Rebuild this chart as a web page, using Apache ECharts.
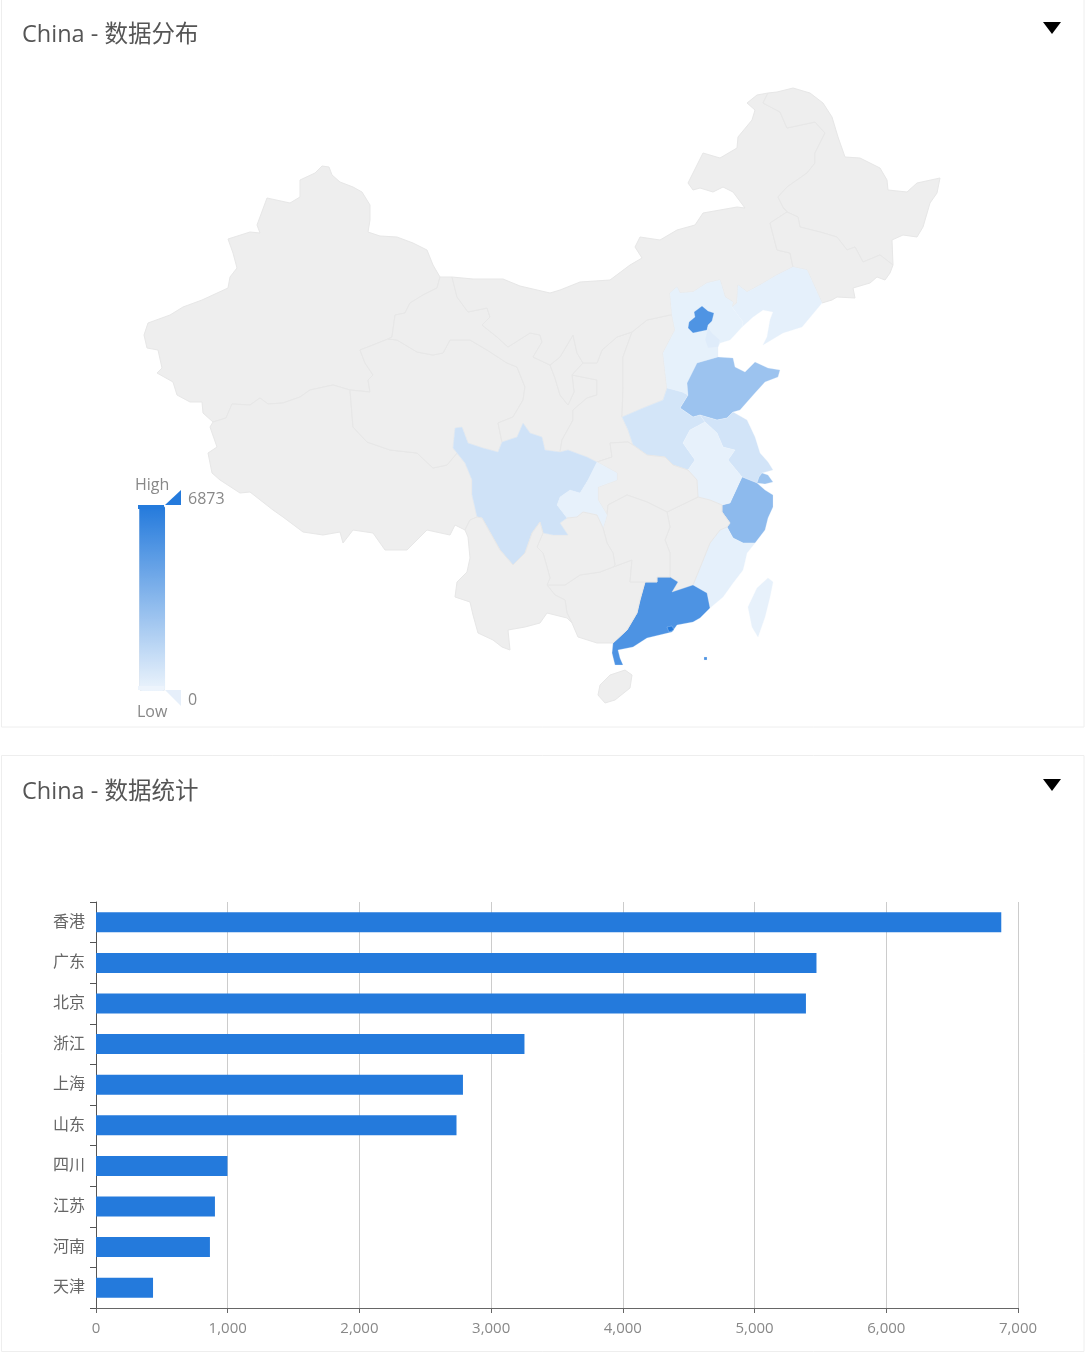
<!DOCTYPE html>
<html><head><meta charset="utf-8">
<style>html,body{margin:0;padding:0;background:#fff}#c{width:1088px;height:1356px}</style>
<script src="https://cdn.jsdelivr.net/npm/echarts@6/dist/echarts.min.js"></script>
</head><body><div id="c"></div>
<script>
// ---------- data ----------
const barCategories = ['香港','广东','北京','浙江','上海','山东','四川','江苏','河南','天津'];
const barValues = [6873,5470,5390,3253,2786,2737,998,903,865,433];
const extraRegions = ['辽宁','河北','安徽','福建','重庆','台湾'];
const extraValues = [240,190,180,230,170,160];
const xTicks = {min:0,max:7000,interval:1000};
const legendRange = [0,6873];

// ---------- map outline data (shared province borders) ----------
const A = {
xjN:[[440,277],[433,265],[427,250],[413,243],[397,237],[380,236],[368,232],[370,220],[370,205],[362,192],[353,187],[340,182],[332,175],[329,167],[322,166],[315,173],[300,180],[300,197],[290,203],[267,198],[257,225],[260,233],[250,232],[228,239],[233,253],[237,268],[230,277],[228,288],[202,300],[183,307],[170,315],[148,323],[144,335],[147,348],[158,350],[162,368],[157,373],[173,382],[177,395],[190,402],[202,402],[203,413],[213,422]],
xjGs:[[440,277],[437,288],[423,295],[410,303],[405,313],[395,315],[392,337],[388,339]],
xjQh:[[388,339],[373,345],[360,350],[365,363],[373,375],[368,380],[370,392],[350,390]],
xjXz:[[350,390],[333,385],[310,390],[300,397],[283,403],[268,404],[260,398],[250,405],[232,404],[226,418],[213,422]],
xzS:[[213,422],[210,427],[217,447],[208,453],[212,473],[220,480],[240,493],[250,492],[273,510],[283,517],[303,532],[323,535],[340,532],[343,543],[353,530],[373,533],[385,550],[407,550],[427,530],[450,535],[455,525],[465,530]],
xzYn:[[465,530],[470,520],[477,517]],
xzSc:[[477,517],[472,495],[472,480],[465,463],[457,453]],
xzQh:[[457,453],[447,465],[433,468],[417,453],[390,450],[367,442],[353,427],[350,390]],
qhSc:[[457,453],[453,448],[455,428],[462,427],[468,443],[483,448],[498,452],[502,442]],
qhGs:[[502,442],[498,423],[513,417],[523,400],[525,387],[517,367],[507,363],[487,350],[470,340],[450,340],[443,353],[433,355],[417,352],[397,340],[388,339]],
gsN:[[440,277],[452,277]],
gsIm:[[452,277],[457,297],[468,312],[487,308],[490,317],[482,325],[497,337],[508,347],[530,333],[540,335],[542,342],[533,357],[550,365]],
gsNx:[[550,365],[555,378],[560,395],[568,405],[574,392],[572,375]],
gsSx:[[572,375],[597,380],[597,395],[587,398],[573,410],[573,420],[562,440],[560,452]],
gsSc:[[560,452],[545,450],[542,437],[530,433],[523,423],[517,437],[502,442]],
nxIm:[[550,365],[560,357],[573,335],[577,353],[583,363]],
nxSx:[[583,363],[572,375]],
sxIm:[[583,363],[597,363],[602,350],[617,337],[632,332]],
sxShx:[[632,332],[623,357],[623,387],[622,417]],
sxHn:[[622,417],[628,430],[633,445]],
sxHb:[[633,445],[628,442],[610,443],[612,457],[597,462]],
sxSc:[[597,462],[587,457],[568,450],[560,452]],
shxIm:[[632,332],[647,320],[670,315],[672,315]],
shxHe:[[672,315],[675,330],[663,353],[667,388]],
shxHn:[[667,388],[663,400],[643,408],[622,417]],
imN:[[452,277],[473,279],[503,279],[520,286],[550,293],[560,290],[580,282],[610,280],[630,265],[642,258],[635,247],[640,237],[660,240],[677,230],[695,225],[703,213],[737,207],[745,208],[733,192],[723,187],[713,192],[700,188],[693,190],[688,183],[703,153],[720,158],[737,148],[738,137],[752,120],[755,110],[747,103],[757,95],[768,93]],
imHl:[[768,93],[763,103],[780,112],[787,128],[815,122],[825,133],[815,153],[815,163],[807,173],[787,187],[778,197],[783,207]],
imJl:[[783,207],[787,212],[770,223],[777,250],[790,253],[793,267]],
imLn:[[793,267],[777,275],[760,285],[747,292],[738,285],[737,303],[732,307]],
imHe:[[732,307],[733,302],[725,297],[720,280],[707,283],[693,292],[680,293],[677,287],[670,293],[672,315]],
hlN:[[768,93],[777,92],[793,88],[810,93],[823,103],[832,117],[838,137],[845,157],[860,158],[880,168],[887,180],[888,190],[907,192],[917,183],[940,178],[937,193],[930,203],[923,227],[917,237],[903,235],[892,240],[893,265]],
hlJl:[[783,207],[787,212],[798,217],[800,227],[820,232],[837,237],[847,250],[855,247],[863,262],[880,255],[893,265]],
jlE:[[893,265],[890,273],[885,280],[877,277],[870,283],[853,288],[855,298],[837,297],[832,300],[822,303]],
jlLn:[[793,267],[807,270],[822,303]],
lnC:[[822,303],[802,327],[783,333],[763,345],[767,337],[770,320],[773,312],[763,310],[753,317],[742,327]],
lnHe:[[732,307],[743,322],[742,327]],
heC:[[742,327],[730,340],[720,343],[718,347],[718,357]],
heSd:[[718,357],[697,363],[687,383],[688,395]],
heHn:[[667,388],[682,392],[688,395]],
sdC:[[718,357],[733,358],[735,367],[745,372],[755,362],[768,368],[780,370],[778,377],[765,382],[755,393],[740,410],[733,412]],
sdJs:[[733,412],[727,418],[717,420],[700,415]],
sdHn:[[688,395],[680,408],[693,417],[700,415]],
hnJs:[[700,415],[705,422]],
hnAh:[[705,422],[690,430],[683,443],[695,460],[688,470]],
hnHb:[[633,445],[647,455],[665,457],[673,465],[688,470]],
jsC:[[733,412],[747,420],[755,437],[760,453],[768,462],[773,470],[762,473]],
jsSh:[[762,473],[759,477],[757,483]],
jsZj:[[757,483],[742,477]],
jsAh:[[705,422],[717,433],[723,447],[735,450],[728,460],[742,477]],
shC:[[762,473],[768,475],[773,482],[765,484],[757,483]],
zjC:[[757,483],[765,490],[773,495],[773,507],[768,518],[765,530],[755,543]],
zjAh:[[742,477],[730,503],[722,505]],
zjJx:[[722,505],[722,512],[730,523],[727,527]],
zjFj:[[727,527],[733,538],[743,543],[755,543]],
ahJx:[[722,505],[710,500],[698,497]],
ahHb:[[698,497],[697,480],[688,470]],
fjC:[[755,543],[747,553],[743,570],[733,583],[723,597],[710,608]],
fjGd:[[710,608],[707,593],[693,585]],
fjJx:[[693,585],[702,563],[710,543],[720,530],[727,527]],
gdC:[[710,608],[700,618],[693,622],[677,625],[672,632],[647,638],[633,647],[618,650],[620,658],[623,665],[615,665],[612,653],[613,643]],
gdGx:[[613,643],[627,630],[637,613],[640,600],[645,582]],
gdHn:[[645,582],[657,582],[657,577],[670,577]],
gdJx:[[670,577],[678,582],[672,592],[693,585]],
hbJx:[[698,497],[667,512]],
hbHn:[[667,512],[647,502],[627,495],[608,505],[607,515]],
hbCq:[[607,515],[598,500],[598,487],[617,480],[617,473],[597,462]],
hnJx:[[667,512],[670,527],[665,540],[670,553],[670,577]],
hnGx:[[645,582],[630,582],[632,560],[613,567]],
hnGz:[[613,567],[615,565],[613,553],[607,543],[603,528]],
hnCq:[[603,528],[607,515]],
cqGz:[[603,528],[597,515],[583,512],[577,517],[567,518]],
cqSc:[[567,518],[557,505],[560,497],[570,490],[580,493],[588,480],[597,462]],
gzSc:[[567,518],[560,523],[568,535],[553,535],[543,533]],
ynSc:[[543,533],[540,522],[532,533],[525,553],[513,565],[500,550],[482,518],[477,517]],
ynW:[[465,530],[468,537],[470,558],[467,572],[457,582],[455,597],[470,602],[473,615],[478,633],[493,640],[502,647],[510,650],[508,630],[525,627],[540,623],[547,613],[567,618],[572,623]],
ynGx:[[572,623],[567,613],[565,600],[555,595],[547,585]],
ynGz:[[547,585],[550,578],[547,567],[543,553],[537,547],[543,533]],
gxGz:[[547,585],[565,585],[580,575],[600,572],[613,567]],
gxS:[[572,623],[578,637],[597,643],[613,643]]
};
// province = ordered list of border arcs ('-' = walk the arc backwards)
const P = {
'新疆':['xjGs','xjQh','xjXz','-xjN'],
'西藏':['xjXz','xzS','xzYn','xzSc','xzQh'],
'青海':['xjQh','-xzQh','qhSc','qhGs'],
'甘肃':['gsN','gsIm','gsNx','gsSx','gsSc','qhGs','-xjGs'],
'宁夏':['nxIm','nxSx','-gsNx'],
'陕西':['sxIm','sxShx','sxHn','sxHb','sxSc','-gsSx','-nxSx'],
'山西':['shxIm','shxHe','shxHn','-sxShx'],
'内蒙古':['imN','imHl','imJl','imLn','imHe','-shxIm','-sxIm','-nxIm','-gsIm'],
'黑龙江':['hlN','-hlJl','-imHl'],
'吉林':['hlJl','jlE','-jlLn','-imJl'],
'辽宁':['jlLn','lnC','-lnHe','-imLn'],
'河北':['imHe','shxHe','heHn','-heSd','-heC','-lnHe'],
'山东':['sdC','sdJs','-sdHn','-heSd'],
'河南':['heHn','sdHn','hnJs','hnAh','-hnHb','-sxHn','-shxHn'],
'江苏':['-sdJs','jsC','jsSh','jsZj','-jsAh','-hnJs'],
'上海':['shC','-jsSh'],
'浙江':['zjC','-zjFj','-zjJx','-zjAh','-jsZj'],
'安徽':['jsAh','zjAh','ahJx','ahHb','-hnAh'],
'福建':['zjFj','fjC','fjGd','fjJx'],
'江西':['hbJx','hnJx','gdJx','fjJx','-zjJx','ahJx'],
'广东':['gdC','gdGx','gdHn','gdJx','-fjGd'],
'广西':['gdGx','hnGx','-gxGz','-ynGx','gxS'],
'湖北':['hnHb','-ahHb','hbJx','hbHn','hbCq','-sxHb'],
'湖南':['-hbHn','hnJx','-gdHn','hnGx','hnGz','hnCq'],
'重庆':['-hbCq','-hnCq','cqGz','cqSc'],
'贵州':['-cqGz','-hnGz','-gxGz','ynGz','-gzSc'],
'四川':['-cqSc','gzSc','ynSc','xzSc','qhSc','-gsSc','-sxSc'],
'云南':['-xzYn','ynW','ynGx','ynGz','ynSc']
};
// areas that are not built from shared borders
const islands = {
'北京':[[[702,306],[708,311],[714,313],[712,321],[708,325],[707,330],[693,333],[688,328],[689,322],[695,317],[694,312]]],
'天津':[[[708,327],[712,333],[720,340],[718,347],[708,348],[705,340]]],
'海南':[[[600,685],[610,675],[625,670],[632,675],[630,688],[615,700],[605,703],[598,695]]],
'台湾':[[[748,607],[757,588],[768,578],[773,582],[770,597],[765,617],[758,637],[752,627]]],
'香港':[[[667,627],[672,626],[674,630],[669,632]]]
};
const guangdongIsland = [[704,657],[707,657],[707,660],[704,660]];

function ring(list){
  let r=[];
  list.forEach(k=>{
    const rev=k[0]==='-', a=A[rev?k.slice(1):k];
    r=r.concat(rev?a.slice().reverse():a);
  });
  r.push(r[0]);
  return r.map(p=>[p[0],-p[1]]);
}
function closed(pts){return pts.concat([pts[0]]).map(p=>[p[0],-p[1]]);}
const features=[];
Object.keys(P).forEach(n=>{
  let coords=[[ring(P[n])]];
  if(n==='广东')coords.push([closed(guangdongIsland)]);
  features.push({type:'Feature',properties:{name:n},geometry:{type:'MultiPolygon',coordinates:coords}});
});
Object.keys(islands).forEach(n=>{
  features.push({type:'Feature',properties:{name:n},geometry:{type:'MultiPolygon',coordinates:islands[n].map(x=>[closed(x)])}});
});
echarts.registerMap('china',{type:'FeatureCollection',features});

const colouredEdge={borderColor:'rgba(236,244,252,0.5)',borderWidth:0.5};
const mapData = barCategories.map((n,i)=>({name:n,value:barValues[i],itemStyle:colouredEdge}))
  .concat(extraRegions.map((n,i)=>({name:n,value:extraValues[i],itemStyle:colouredEdge})));

const FONT='"Open Sans","Noto Sans CJK SC",sans-serif';
const chart=echarts.init(document.getElementById('c'),null,{renderer:'canvas'});
chart.setOption({
  animation:false,
  textStyle:{fontFamily:FONT},
  title:[
    {text:'China - 数据分布',left:22,top:24,padding:0,textStyle:{fontSize:23.5,fontWeight:'normal',color:'#555',fontFamily:FONT}},
    {text:'China - 数据统计',left:22,top:781,padding:0,textStyle:{fontSize:23.5,fontWeight:'normal',color:'#555',fontFamily:FONT}}
  ],
  graphic:[
    {type:'rect',z:-1,shape:{x:1.5,y:-2,width:1082.5,height:729},style:{fill:'#fff',stroke:'#eee',lineWidth:1}},
    {type:'rect',z:-1,shape:{x:1.5,y:755.5,width:1082.5,height:596},style:{fill:'#fff',stroke:'#eee',lineWidth:1}},
    {type:'polygon',shape:{points:[[1043,22],[1061,22],[1052,34]]},style:{fill:'#000'}},
    {type:'polygon',shape:{points:[[1043,779],[1061,779],[1052,791]]},style:{fill:'#000'}},
    {type:'polygon',shape:{points:[[165,505],[181,505],[181,490]]},style:{fill:'#247adc'}},
    {type:'polygon',shape:{points:[[165,690],[181,690],[181,706]]},style:{fill:'#e6effa'}},
    {type:'rect',z:20,shape:{x:138,y:505,width:26,height:4},style:{fill:'#257bdc'}},
    {type:'rect',z:20,shape:{x:138,y:686,width:26,height:4},style:{fill:'#edf4fc'}},
    {type:'text',left:188,top:491,style:{text:String(legendRange[1]),fill:'#888',font:'16px '+FONT}},
    {type:'text',left:188,top:692,style:{text:String(legendRange[0]),fill:'#888',font:'16px '+FONT}}
  ],
  visualMap:{
    type:'continuous',seriesIndex:0,min:legendRange[0],max:legendRange[1],
    left:120,top:462,itemWidth:26,itemHeight:185,calculable:false,
    text:['High','Low'],textGap:13,
    textStyle:{color:'#888',fontSize:16,fontFamily:FONT},
    inRange:{color:['#ecf4fc','#247adc']}
  },
  grid:{left:96,top:902,width:922,height:406,containLabel:false},
  xAxis:{type:'value',min:xTicks.min,max:xTicks.max,interval:xTicks.interval,
    axisLine:{show:true,lineStyle:{color:'#666'}},
    axisTick:{show:true,length:5,lineStyle:{color:'#666'}},
    axisLabel:{color:'#888',fontSize:15,margin:13,fontFamily:FONT,hideOverlap:false,
      formatter:v=>v.toLocaleString('en-US')},
    splitLine:{show:true,lineStyle:{color:'#ccc'}}},
  yAxis:{type:'category',inverse:true,data:barCategories,
    axisLine:{show:true,lineStyle:{color:'#555'}},
    axisTick:{show:true,length:6,alignWithLabel:false,lineStyle:{color:'#555'}},
    axisLabel:{color:'#666',fontSize:16,margin:11,interval:0,fontFamily:FONT,padding:[5,0,0,0]}},
  series:[
    {type:'map',map:'china',left:0,top:0,width:1088,height:728,aspectScale:1,
     boundingCoords:[[0,0],[1088,-728]],roam:false,silent:true,
     label:{show:false},emphasis:{disabled:true},select:{disabled:true},
     itemStyle:{areaColor:'#eee',borderColor:'#e7e7e7',borderWidth:1},
     data:mapData},
    {type:'bar',data:barValues,barWidth:20,itemStyle:{color:'#247adc'},silent:true}
  ]
});
</script></body></html>
